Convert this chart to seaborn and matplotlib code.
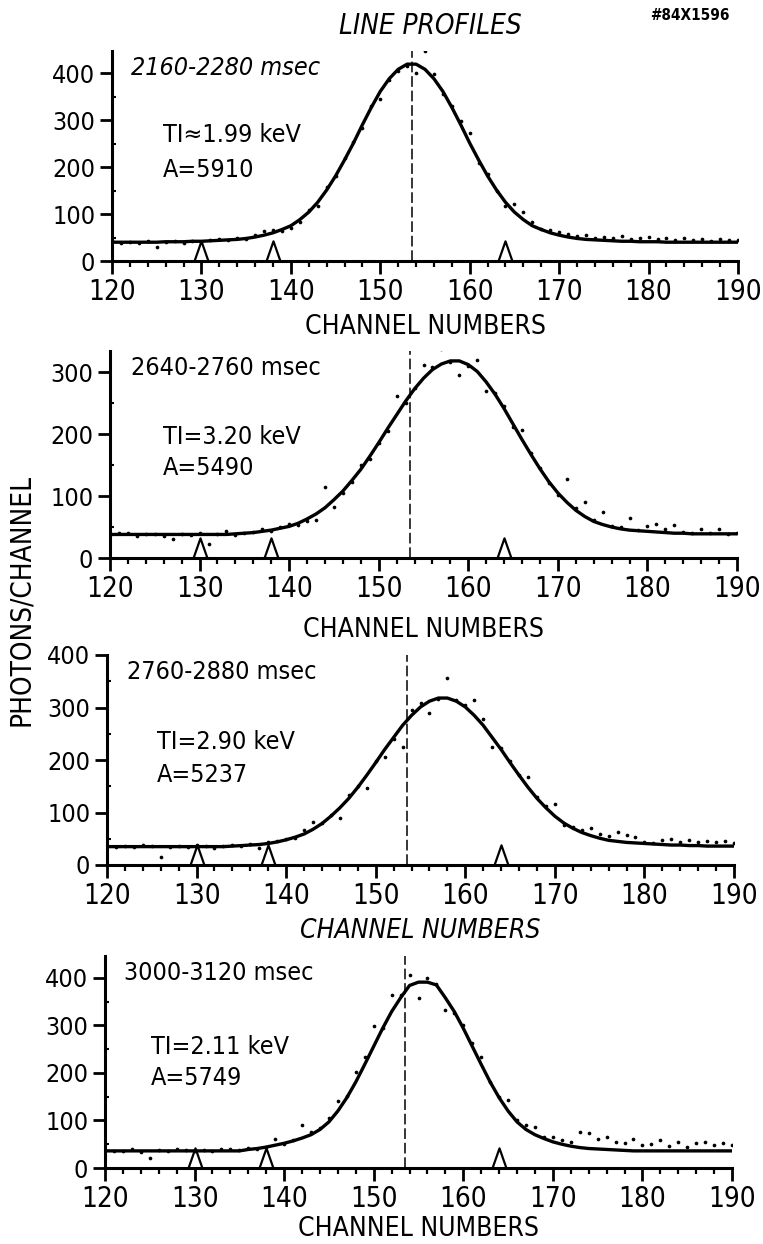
import matplotlib
matplotlib.use("Agg")
import matplotlib.pyplot as plt
from matplotlib import font_manager as fm
from matplotlib.path import Path
from matplotlib.ticker import MultipleLocator
import pandas as pd
import seaborn as sns

# ---------------------------------------------------------------- data
channels = list(range(120, 191))

fit_2160 = [40, 40, 40, 40, 40, 40, 41, 41, 41, 42, 42, 43, 44,
            45, 46, 48, 51, 55, 60, 67, 75, 88, 104, 125, 151, 181, 215, 251,
            290, 327, 361, 388, 408, 419, 419, 408, 388, 361, 327, 290, 251,
            215, 181, 151, 125, 104, 88, 75, 67, 60, 55, 51, 48, 46, 45, 44,
            43, 42, 42, 41, 41, 41, 40, 40, 40, 40, 40, 40, 40, 40, 40]
dots_2160 = [42, 38, 41, 39, 43, 30, 40, 42, 38, 43, 41, 44, 47, 44, 49, 47,
             55, 64, 66, 63, 71, 82, 108, 118, 158, 180, 220, 254, 284, 330,
             344, 385, 404, 416, 400, 448, 398, 356, 330, 297, 272, 208, 186,
             150, 118, 122, 104, 83, 68, 66, 62, 57, 54, 56, 50, 52, 48, 54,
             47, 50, 52, 46, 50, 44, 48, 45, 47, 43, 46, 44, 45]

fit_2640 = [38, 38, 38, 38, 38, 38, 38, 38, 38, 38, 38, 38, 38, 38,
            39, 40, 41, 43, 45, 48, 51, 56, 63, 71, 81, 94, 108, 125, 143,
            164, 186, 209, 231, 253, 273, 290, 304, 313, 318, 318, 312, 301,
            284, 264, 241, 216, 191, 167, 144, 123, 105, 90, 77, 67, 59, 54,
            50, 47, 45, 44, 43, 42, 41, 40, 40, 39, 39, 39, 39, 39, 39]
dots_2640 = [37, 40, 41, 36, 38, 39, 35, 30, 38, 37, 40, 22, 38, 44, 37, 40,
             42, 46, 44, 50, 55, 53, 60, 62, 115, 82, 105, 123, 150, 160, 185,
             205, 262, 250, 275, 311, 308, 338, 316, 295, 310, 319, 270, 267,
             245, 212, 207, 170, 146, 121, 102, 128, 80, 90, 62, 74, 52, 50,
             65, 45, 52, 55, 46, 53, 42, 41, 47, 40, 47, 39, 41]

fit_2760 = [35, 35, 35, 35, 35, 35, 35, 35, 35, 35, 35, 35, 35, 35,
            36, 37, 38, 39, 41, 44, 48, 53, 59, 68, 79, 93, 109, 127, 148,
            171, 195, 220, 243, 266, 285, 301, 312, 318, 318, 312, 301, 285,
            266, 243, 220, 195, 171, 148, 127, 109, 93, 80, 70, 62, 56, 51,
            47, 45, 43, 42, 41, 40, 39, 38, 38, 37, 37, 36, 36, 36, 36]
dots_2760 = [36, 34, 37, 35, 38, 36, 16, 35, 37, 34, 38, 36, 33, 37, 39, 36,
             40, 32, 43, 45, 50, 52, 67, 82, 80, 96, 89, 133, 150, 146, 198,
             206, 240, 225, 295, 308, 289, 316, 357, 314, 305, 314, 279, 225,
             222, 198, 172, 168, 130, 112, 117, 76, 72, 66, 70, 60, 56, 63,
             57, 54, 44, 42, 47, 49, 43, 48, 44, 46, 43, 45, 42]

fit_3000 = [36, 36, 36, 36, 36, 36, 36, 36, 36, 36, 36, 36, 36, 36, 36, 36,
            39, 41, 44, 48, 52, 57, 63, 70, 81, 97, 120, 148, 181, 218, 256,
            294, 329, 358, 384, 391, 391, 385, 358, 329, 294, 256, 218, 181,
            148, 120, 97, 81, 70, 62, 55, 50, 46, 43, 41, 40, 39, 38, 37,
            36, 36, 36, 36, 36, 36, 36, 36, 36, 36, 36, 36]
dots_3000 = [38, 35, 36, 39, 34, 20, 37, 36, 40, 37, 35, 38, 36, 40, 41, 37,
             42, 40, 45, 62, 50, 58, 90, 76, 84, 105, 140, 152, 203, 234, 298,
             294, 364, 365, 406, 357, 400, 388, 333, 326, 300, 262, 234, 180,
             150, 143, 100, 90, 87, 66, 66, 59, 54, 76, 73, 60, 66, 55, 52,
             62, 48, 50, 59, 47, 55, 45, 52, 55, 48, 52, 49]

windows = ["2160-2280 msec", "2640-2760 msec", "2760-2880 msec", "3000-3120 msec"]
ti_labels = ["TI\u22481.99 keV", "TI=3.20 keV", "TI=2.90 keV", "TI=2.11 keV"]
area_labels = ["A=5910", "A=5490", "A=5237", "A=5749"]
y_top = [447, 334, 400, 446]
line_channels = [130, 138, 164]
ref_channel = 153.5

fits = [fit_2160, fit_2640, fit_2760, fit_3000]
dots = [dots_2160, dots_2640, dots_2760, dots_3000]

# ---------------------------------------------------------------- style
sns.set_style("ticks")
names = {f.name for f in fm.fontManager.ttflist}
narrow = "Liberation Sans Narrow" if "Liberation Sans Narrow" in names else "DejaVu Sans"
plt.rcParams["font.family"] = [narrow, "DejaVu Sans"]
plt.rcParams["font.stretch"] = "condensed"
plt.rcParams["text.color"] = "black"
plt.rcParams["axes.labelcolor"] = "black"

W, H = 763, 1244
fig = plt.figure(figsize=(W / 100, H / 100), dpi=100)
fig.patch.set_facecolor("white")


def fx(x):
    return x / W


def fy(y):
    return 1 - y / H


# panel frames in pixels: left, right, y of zero, y of top
frames = [(112, 738, 261, 51), (110, 737, 558, 351),
          (107, 734, 865, 655), (105, 732, 1168, 956)]
label_rows = [(68, 135, 170, 327), (368, 437, 468, 630),
              (672, 742, 775, 931), (973, 1047, 1078, 1229)]
text_x = [(131, 163), (131, 163), (127, 157), (124, 151)]

# open "Λ" marker sitting on the baseline
hat = Path([(-0.7, 0.0), (0.0, 2.0), (0.7, 0.0)])

for i in range(4):
    l, r, y0, yt = frames[i]
    ax = fig.add_axes([fx(l), fy(y0), (r - l) / W, (y0 - yt) / H])
    ax.set_facecolor("white")
    df = pd.DataFrame({"channel": channels, "fit": fits[i], "counts": dots[i]})

    ax.axvline(ref_channel, color="black", lw=1.1, ls=(0, (7, 2.5)), zorder=1)
    sns.lineplot(data=df, x="channel", y="fit", ax=ax, color="black",
                 lw=2.4, zorder=3)
    sns.scatterplot(data=df, x="channel", y="counts", ax=ax, color="black",
                    s=7, linewidth=0, zorder=4)
    ax.plot(line_channels, [0] * len(line_channels), ls="none", marker=hat,
            markersize=29, mfc="none", mec="black", mew=1.6, zorder=5,
            clip_on=False)

    ax.set_xlim(120, 190)
    ax.set_ylim(0, y_top[i])
    ax.xaxis.set_major_locator(MultipleLocator(10))
    ax.xaxis.set_minor_locator(MultipleLocator(2))
    ax.yaxis.set_major_locator(MultipleLocator(100))
    ax.yaxis.set_minor_locator(MultipleLocator(50))
    for side in ("top", "right"):
        ax.spines[side].set_visible(False)
    for side in ("left", "bottom"):
        ax.spines[side].set_linewidth(2.2)
        ax.spines[side].set_color("black")
    ax.tick_params(axis="x", which="major", direction="out", length=9,
                   width=2.0, pad=3, labelsize=20, colors="black")
    ax.tick_params(axis="x", which="minor", direction="out", length=4.5,
                   width=1.6, colors="black")
    ax.tick_params(axis="y", which="major", direction="out", length=9,
                   width=2.0, pad=3, labelsize=18, colors="black")
    ax.tick_params(axis="y", which="minor", direction="in", length=3,
                   width=1.5, colors="black")
    ax.set_ylabel("")
    ax.set_xlabel("CHANNEL NUMBERS", fontsize=19, va="center",
                  style="italic" if i == 2 else "normal")
    ax.xaxis.set_label_coords(0.5 * (l + r) / W, fy(label_rows[i][3]),
                              transform=fig.transFigure)

    yw, yt_, ya, _ = label_rows[i]
    xw, xt = text_x[i]
    fig.text(fx(xw), fy(yw), windows[i], fontsize=18, va="center", ha="left",
             style="italic" if i == 0 else "normal")
    fig.text(fx(xt), fy(yt_), ti_labels[i], fontsize=18, va="center", ha="left")
    fig.text(fx(xt), fy(ya), area_labels[i], fontsize=18, va="center", ha="left")

fig.text(fx(430), fy(26), "LINE PROFILES", fontsize=20, style="italic",
         ha="center", va="center")
fig.text(fx(690), fy(15), "#84X1596", fontsize=11, weight="bold",
         ha="center", va="center")
fig.text(fx(21), fy(600), "PHOTONS/CHANNEL", fontsize=20, rotation=90,
         ha="center", va="center")

fig.savefig("out.png", dpi=100, facecolor="white")
